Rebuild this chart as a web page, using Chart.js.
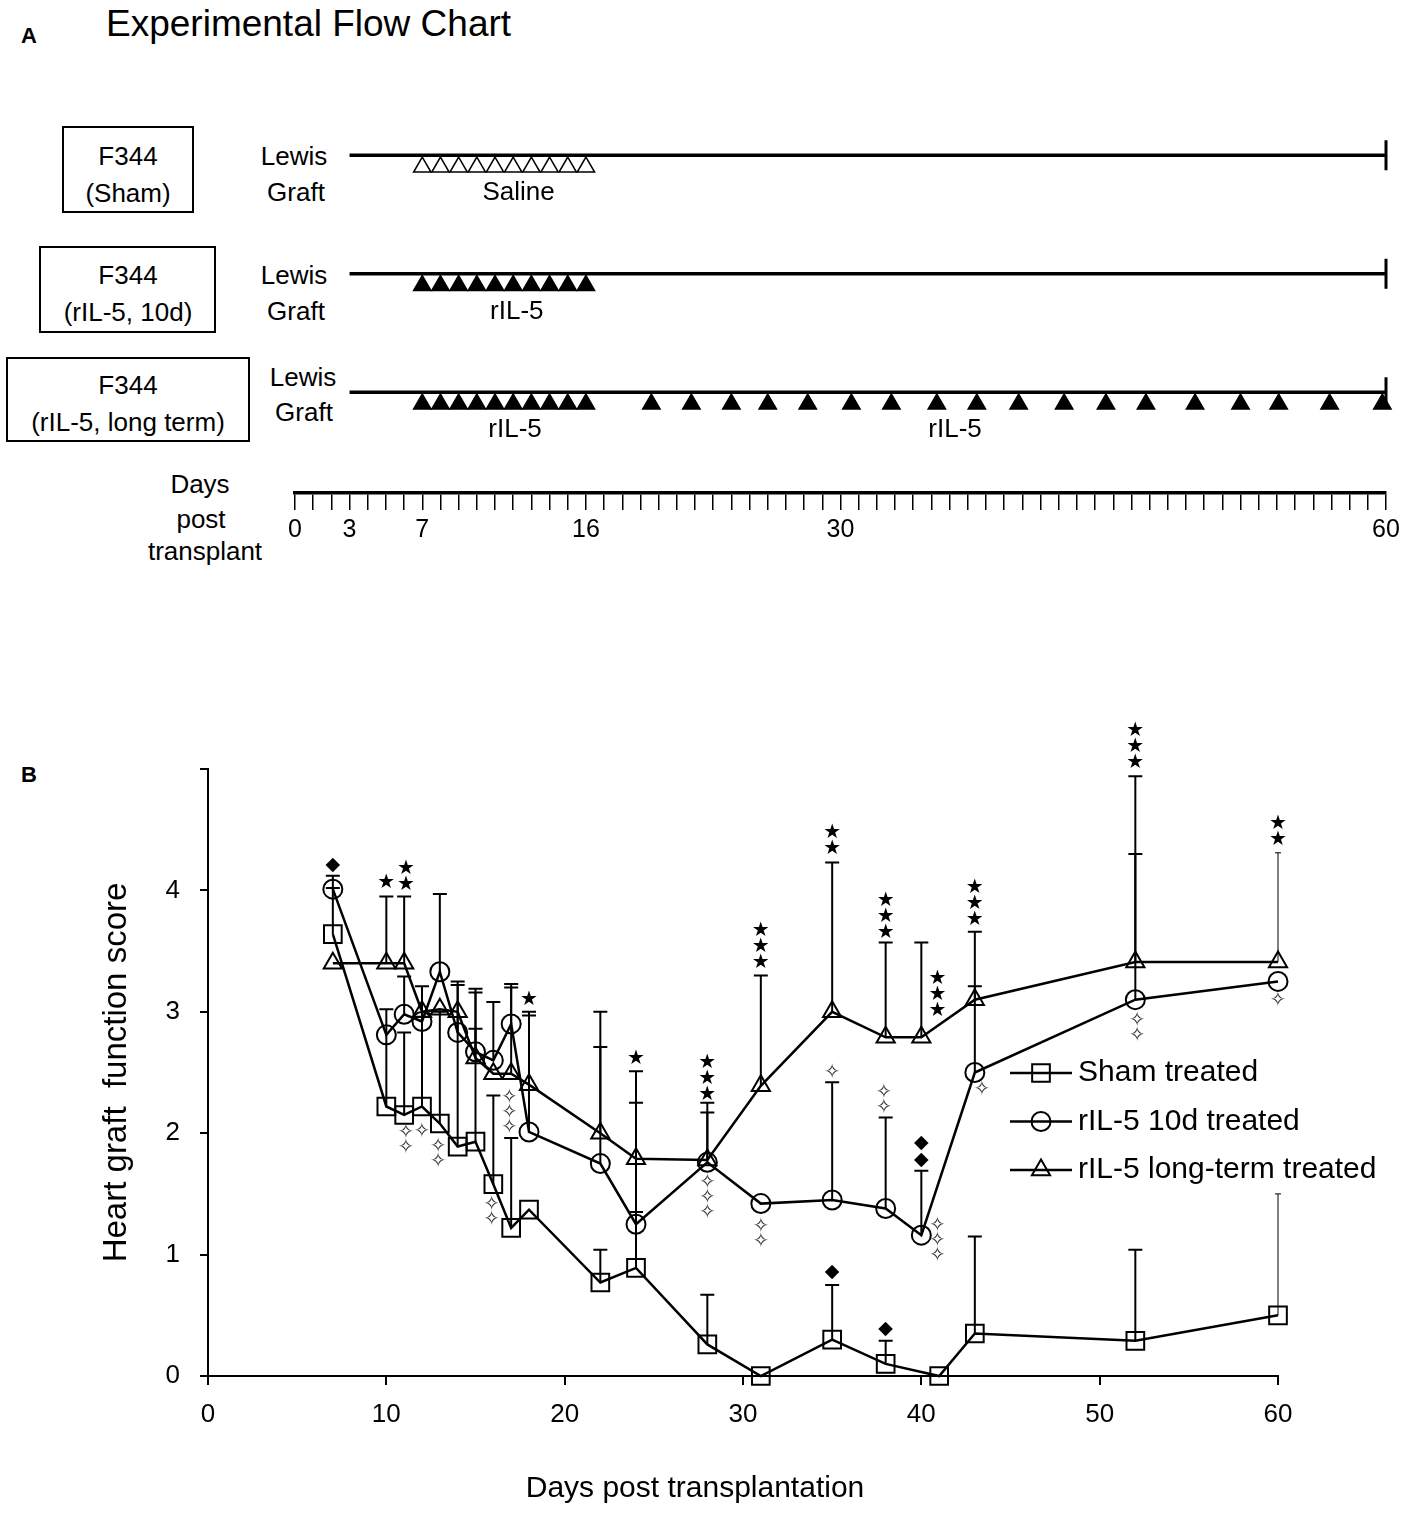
<!DOCTYPE html>
<html>
<head>
<meta charset="utf-8">
<script src="https://cdn.jsdelivr.net/npm/chart.js@4.4.1/dist/chart.umd.min.js"></script>
<style>
  body { margin: 0; background: #fff; width: 1418px; height: 1529px; position: relative; overflow: hidden;
         font-family: "Liberation Sans", Arial, Helvetica, sans-serif; color: #000; }
  .t { position: absolute; line-height: 1; white-space: nowrap; font-size: 26px; }
  .c { transform: translateX(-50%); }
  .box { position: absolute; border: 2px solid #000; box-sizing: border-box; }
  #flowWrap { position: absolute; left: 0; top: 0; width: 1418px; height: 580px; }
  #scoreWrap { position: absolute; left: 0; top: 640px; width: 1418px; height: 889px; }
</style>
</head>
<body>

<div class="t" style="left:21px; top:25px; font-size:22px; font-weight:bold;">A</div>
<div class="t" style="left:106px; top:5px; font-size:37px;">Experimental Flow Chart</div>

<div class="box" style="left:62px; top:126px; width:132px; height:87px;"></div>
<div class="t c" style="left:128px; top:143px;">F344</div>
<div class="t c" style="left:128px; top:180px;">(Sham)</div>
<div class="box" style="left:39px; top:246px; width:177px; height:87px;"></div>
<div class="t c" style="left:128px; top:262px;">F344</div>
<div class="t c" style="left:128px; top:299px;">(rIL-5, 10d)</div>
<div class="box" style="left:6px; top:357px; width:244px; height:85px;"></div>
<div class="t c" style="left:128px; top:372px;">F344</div>
<div class="t c" style="left:128px; top:409px;">(rIL-5, long term)</div>

<div class="t c" style="left:294px; top:143px;">Lewis</div>
<div class="t c" style="left:296px; top:179px;">Graft</div>
<div class="t c" style="left:294px; top:262px;">Lewis</div>
<div class="t c" style="left:296px; top:298px;">Graft</div>
<div class="t c" style="left:303px; top:364px;">Lewis</div>
<div class="t c" style="left:304px; top:399px;">Graft</div>

<div class="t c" style="left:200px; top:471px;">Days</div>
<div class="t c" style="left:201px; top:506px;">post</div>
<div class="t c" style="left:205px; top:538px;">transplant</div>

<div class="t" style="left:21px; top:764px; font-size:22px; font-weight:bold;">B</div>

<div id="flowWrap"><canvas id="flowChart"></canvas></div>
<div id="scoreWrap"><canvas id="scoreChart"></canvas></div>

<script>
// ---------- panel A: treatment schedule ----------
var flowRows = ["F344 (Sham)", "F344 (rIL-5, 10d)", "F344 (rIL-5, long term)"];
var timelineLabels = [0, 3, 7, 16, 30, 60];
var graftStart = 3;
var graftEnd = 60;
var salineDays = [7, 8, 9, 10, 11, 12, 13, 14, 15, 16];
var rIL5ShortDays = [7, 8, 9, 10, 11, 12, 13, 14, 15, 16];
var rIL5LongDays = [7, 8, 9, 10, 11, 12, 13, 14, 15, 16,
  19.6, 21.8, 24, 26, 28.2, 30.6, 32.8, 35.3, 37.5, 39.8, 42.3, 44.6, 46.8, 49.5, 52, 54.1, 56.9, 59.8];
var treatmentLabels = [
  { text: "Saline", day: 12.3, row: 0 },
  { text: "rIL-5", day: 12.2, row: 1 },
  { text: "rIL-5", day: 12.1, row: 2 },
  { text: "rIL-5", day: 36.3, row: 2 }
];

// ---------- panel B: heart graft function score ----------
var shamDays  = [7, 10, 11, 12, 13, 14, 15, 16, 17, 18, 22, 24, 28, 31, 35, 38, 41, 43, 52, 60];
var shamScore = [3.64, 2.22, 2.15, 2.22, 2.08, 1.89, 1.93, 1.58, 1.22, 1.37, 0.77, 0.89, 0.26, 0, 0.3, 0.1, 0, 0.35, 0.29, 0.5];
var shamTop   = [4.02, 3.02, 2.83, 2.96, 3.0, 3.22, 2.86, 2.31, 1.96, null, 1.04, 1.35, 0.67, null, 0.75, 0.29, null, 1.15, 1.04, 1.5];

var shortDays  = [7, 10, 11, 12, 13, 14, 15, 16, 17, 18, 22, 24, 28, 31, 35, 38, 40, 43, 52, 60];
var shortScore = [4.01, 2.81, 2.98, 2.92, 3.33, 2.83, 2.67, 2.6, 2.9, 2.01, 1.75, 1.25, 1.76, 1.42, 1.45, 1.38, 1.16, 2.5, 3.1, 3.25];
var shortTop   = [4.12, null, 3.29, 3.21, 3.97, 3.25, 3.16, 3.08, 3.23, 2.97, 2.71, 2.25, 2.17, null, 2.42, 2.13, 1.69, 3.21, 4.3, null];

var longDays  = [7, 10, 11, 12, 13, 14, 15, 16, 17, 18, 22, 24, 28, 31, 35, 38, 40, 43, 52, 60];
var longScore = [3.4, 3.4, 3.4, 3.0, 3.02, 3.0, 2.62, 2.49, 2.49, 2.4, 2.0, 1.79, 1.78, 2.39, 3.0, 2.79, 2.79, 3.1, 3.41, 3.41];
var longTop   = [null, 3.95, 3.95, null, null, null, 3.19, null, 3.2, 3.0, 3.0, 2.51, 2.25, 3.3, 4.23, 3.57, 3.57, 3.66, 4.94, 4.31];

var scoreTicks = [0, 1, 2, 3, 4];

// significance marks: [day, score of first glyph, number of glyphs]
var filledStars = [[10, 4.06, 1], [11.1, 4.05, 2], [18, 3.1, 1], [24, 2.61, 1], [28, 2.32, 3], [31, 3.4, 3],
  [35, 4.34, 2], [38, 3.65, 3], [40.9, 3.01, 3], [43, 3.76, 3], [52, 5.05, 3], [60, 4.42, 2]];
var diamonds = [[7, 4.21, 1], [35, 0.86, 1], [38, 0.39, 1], [40, 1.78, 2]];
var openStars = [[11.1, 2.0, 2], [12, 2.01, 1], [12.9, 1.89, 2], [15.9, 1.41, 2], [16.9, 2.29, 3], [28, 1.59, 3],
  [31, 1.23, 2], [35, 2.5, 1], [37.9, 2.33, 2], [40.9, 1.24, 3], [43.4, 2.36, 1], [52.1, 2.93, 2], [60, 3.09, 1]];

Chart.defaults.font.family = "'Liberation Sans', Arial, Helvetica, sans-serif";
Chart.defaults.color = "#000";

function pairs(days, vals) {
  return days.map(function (d, i) { return { x: d, y: vals[i] }; });
}

// ========== PANEL A ==========
var markerDrop = 0.1;

var treatmentText = {
  id: "treatmentText",
  afterDatasetsDraw: function (chart) {
    var ctx = chart.ctx, x = chart.scales.x, y = chart.scales.y;
    ctx.save();
    ctx.font = "26px 'Liberation Sans', Arial";
    ctx.fillStyle = "#000";
    ctx.textAlign = "center";
    ctx.textBaseline = "middle";
    treatmentLabels.forEach(function (l) {
      ctx.fillText(l.text, x.getPixelForValue(l.day), y.getPixelForValue(l.row) + 38);
    });
    ctx.restore();
  }
};

function graftLine(row) {
  return {
    data: [{ x: graftStart, y: row }, { x: graftEnd, y: row }],
    showLine: true, borderColor: "#000", borderWidth: 3.5, pointRadius: 0, clip: false
  };
}

function doseSet(days, row, filled) {
  return {
    data: days.map(function (d) { return { x: d, y: row + markerDrop }; }),
    pointStyle: "triangle", pointRadius: 10, pointBorderWidth: 1.5,
    pointBorderColor: "#000", pointBackgroundColor: filled ? "#000" : "#fff", clip: false
  };
}

new Chart(document.getElementById("flowChart"), {
  type: "scatter",
  data: {
    datasets: [
      graftLine(0), graftLine(1), graftLine(2),
      {
        data: flowRows.map(function (_, r) { return { x: graftEnd, y: r }; }),
        pointStyle: "line", pointRotation: 90, pointRadius: 15, pointBorderWidth: 3,
        pointBorderColor: "#000", clip: false
      },
      doseSet(salineDays, 0, false),
      doseSet(rIL5ShortDays, 1, true),
      doseSet(rIL5LongDays, 2, true)
    ]
  },
  options: {
    responsive: true,
    maintainAspectRatio: false,
    animation: false,
    events: [],
    layout: { padding: { left: 295, right: 32, top: 96, bottom: 0 } },
    plugins: { legend: { display: false }, tooltip: { enabled: false } },
    scales: {
      x: {
        type: "linear", min: 0, max: 60,
        afterFit: function (s) { s.height = 87; },
        border: { display: true, color: "#000", width: 3.5 },
        grid: { display: true, drawOnChartArea: false, drawTicks: true, tickLength: 17, color: "#000", lineWidth: 1.5 },
        ticks: {
          stepSize: 1, autoSkip: false, maxTicksLimit: 100, maxRotation: 0, padding: 5,
          color: "#000", font: { size: 25 },
          callback: function (v) { return timelineLabels.indexOf(v) >= 0 ? String(v) : ""; }
        }
      },
      y: { display: false, min: -0.5, max: 2.85, reverse: true }
    }
  },
  plugins: [treatmentText]
});

// ========== PANEL B ==========
var errorBars = {
  id: "errorBars",
  beforeDatasetsDraw: function (chart) {
    var ctx = chart.ctx, y = chart.scales.y;
    ctx.save();
    ctx.strokeStyle = "#000";
    chart.data.datasets.forEach(function (ds, di) {
      var meta = chart.getDatasetMeta(di);
      ds.errTop.forEach(function (top, i) {
        if (top === null) return;
        var pt = meta.data[i];
        var ty = y.getPixelForValue(top);
        var thin = i === ds.errTop.length - 1;
        var cap = thin ? 3 : 7;
        ctx.lineWidth = thin ? 1 : 2;
        ctx.beginPath();
        ctx.moveTo(pt.x, pt.y);
        ctx.lineTo(pt.x, ty);
        ctx.moveTo(pt.x - cap, ty);
        ctx.lineTo(pt.x + cap, ty);
        ctx.stroke();
      });
    });
    ctx.restore();
  }
};

var sigMarks = {
  id: "sigMarks",
  afterDatasetsDraw: function (chart) {
    var ctx = chart.ctx, x = chart.scales.x, y = chart.scales.y;
    ctx.save();
    ctx.textAlign = "center";
    ctx.textBaseline = "middle";
    function draw(list, glyph, font, color, step) {
      ctx.font = font;
      ctx.fillStyle = color;
      list.forEach(function (m) {
        var px = x.getPixelForValue(m[0]), py = y.getPixelForValue(m[1]);
        for (var i = 0; i < m[2]; i++) ctx.fillText(glyph, px, py + step * i);
      });
    }
    draw(filledStars, "\u2605", "20px 'DejaVu Sans'", "#000", -16);
    draw(diamonds, "\u25C6", "19px 'DejaVu Sans'", "#000", -17);
    draw(openStars, "\u2727", "20px 'DejaVu Sans'", "#333", 15);
    ctx.restore();
  }
};

var xCaption = {
  id: "xCaption",
  afterDraw: function (chart) {
    var ctx = chart.ctx;
    ctx.save();
    ctx.font = "30px 'Liberation Sans', Arial";
    ctx.fillStyle = "#000";
    ctx.textAlign = "center";
    ctx.textBaseline = "middle";
    ctx.fillText("Days post transplantation", 695, 849);
    ctx.restore();
  }
};

var insideLegend = {
  id: "insideLegend",
  afterDraw: function (chart) {
    var ctx = chart.ctx;
    var left = 1010, lineLen = 62, top = 433, gap = 48.5;
    ctx.save();
    chart.data.datasets.forEach(function (ds, i) {
      var yy = top + i * gap;
      ctx.strokeStyle = "#000";
      ctx.lineWidth = 2.5;
      ctx.beginPath();
      ctx.moveTo(left, yy);
      ctx.lineTo(left + lineLen, yy);
      ctx.stroke();
      ctx.lineWidth = 2;
      ctx.fillStyle = "rgba(0,0,0,0)";
      Chart.helpers.drawPoint(ctx, { pointStyle: ds.pointStyle, radius: ds.pointRadius, borderWidth: 2, rotation: 0 },
        left + lineLen / 2, yy);
      ctx.fillStyle = "#000";
      ctx.font = "30px 'Liberation Sans', Arial";
      ctx.textAlign = "left";
      ctx.textBaseline = "middle";
      ctx.fillText(ds.label, left + lineLen + 6, yy);
    });
    ctx.restore();
  }
};

function scoreSet(label, days, vals, tops, style, radius) {
  return {
    label: label,
    data: pairs(days, vals),
    errTop: tops,
    borderColor: "#000",
    borderWidth: 2.5,
    tension: 0,
    pointStyle: style,
    pointRadius: radius,
    pointBorderWidth: 2,
    pointBorderColor: "#000",
    pointBackgroundColor: "rgba(0,0,0,0)",
    clip: false
  };
}

new Chart(document.getElementById("scoreChart"), {
  type: "line",
  data: {
    datasets: [
      scoreSet("Sham treated", shamDays, shamScore, shamTop, "rect", 12.5),
      scoreSet("rIL-5 10d treated", shortDays, shortScore, shortTop, "circle", 9.5),
      scoreSet("rIL-5 long-term treated", longDays, longScore, longTop, "triangle", 10.5)
    ]
  },
  options: {
    responsive: true,
    maintainAspectRatio: false,
    animation: false,
    events: [],
    layout: { padding: { left: 0, right: 140, top: 129, bottom: 0 } },
    plugins: { legend: { display: false }, tooltip: { enabled: false } },
    scales: {
      x: {
        type: "linear", min: 0, max: 60,
        afterFit: function (s) { s.height = 153; },
        border: { display: true, color: "#000", width: 2 },
        grid: { display: true, drawOnChartArea: false, drawTicks: true, tickLength: 9, color: "#000", lineWidth: 2 },
        ticks: { stepSize: 10, padding: 14, maxRotation: 0, color: "#000", font: { size: 26 } }
      },
      y: {
        min: 0, max: 5,
        afterFit: function (s) { s.width = 208; },
        border: { display: true, color: "#000", width: 2 },
        grid: { display: true, drawOnChartArea: false, drawTicks: true, tickLength: 8, color: "#000", lineWidth: 2 },
        ticks: {
          stepSize: 1, padding: 20, color: "#000", font: { size: 26 },
          callback: function (v) { return scoreTicks.indexOf(v) >= 0 ? String(v) : ""; }
        },
        title: { display: true, text: "Heart graft  function score", color: "#000", font: { size: 33 }, padding: { top: 97 } }
      }
    }
  },
  plugins: [errorBars, sigMarks, xCaption, insideLegend]
});
</script>
</body>
</html>
